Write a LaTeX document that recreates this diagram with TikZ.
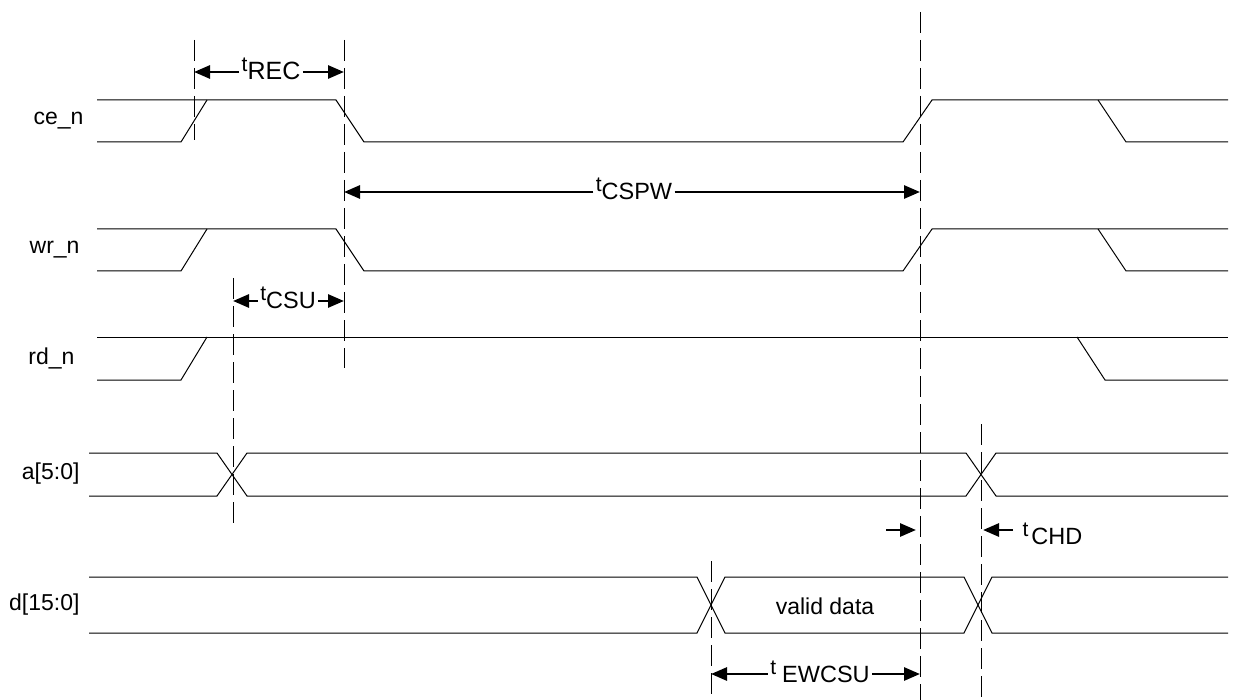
\documentclass[tikz,border=0pt]{standalone}
\usepackage{fontspec}
\setmainfont{Liberation Sans}
\usetikzlibrary{arrows.meta}

% timing symbol: small raised t, lowered index
\newcommand{\tsym}[1]{{\fontsize{21pt}{21pt}\selectfont t}\raisebox{-8pt}{#1}}

\begin{document}
\begin{tikzpicture}[x=1pt, y=-1pt, line width=1pt,
  signame/.style={anchor=east, inner sep=0pt, font=\fontsize{23pt}{23pt}\selectfont},
  sigline/.style={line width=1pt, line join=miter},
  guide/.style={line width=1pt, dash pattern=on 21pt off 7pt},
  dimarrow/.style={line width=2.8pt, -{Triangle[length=16pt,width=13pt]}},
  dimlabel/.style={anchor=base, inner sep=2pt, font=\fontsize{23.5pt}{23.5pt}\selectfont}]

  \useasboundingbox (0,0) rectangle (1233,700);

  % ───────── Signal names ─────────
  \node[signame] (nce) at (84,121) {ce\_n};
  \node[signame] (nwr) at (80,250) {wr\_n};
  \node[signame] (nrd) at (75,358) {rd\_n};
  \node[signame] (na)  at (80,474) {a[5:0]};
  \node[signame] (nd)  at (80,605) {d[15:0]};

  % ───────── ce_n and wr_n (same waveform) ─────────
  % high y = \hi, low y = \lo
  \foreach \hi/\lo in {100/142, 229/271} {
    \draw[sigline] (97,\hi) -- (336,\hi) -- (364,\lo) -- (903,\lo) -- (932,\hi) -- (1228,\hi);
    \draw[sigline] (97,\lo) -- (181,\lo) -- (207,\hi);
    \draw[sigline] (1098,\hi) -- (1126,\lo) -- (1228,\lo);
  }

  % ───────── rd_n ─────────
  \draw[sigline] (97,337) -- (1228,337);
  \draw[sigline] (97,380) -- (181,380) -- (207,337);
  \draw[sigline] (1077,337) -- (1105,380) -- (1228,380);

  % ───────── a[5:0] bus, crossings at x = 232, 981 ─────────
  \draw[sigline] (89,453) -- (217,453) -- (247,496) -- (966,496) -- (996,453) -- (1228,453);
  \draw[sigline] (89,496) -- (217,496) -- (247,453) -- (966,453) -- (996,496) -- (1228,496);

  % ───────── d[15:0] bus, crossings at x = 711, 978 ─────────
  \draw[sigline] (89,577) -- (697,577) -- (725,633) -- (964,633) -- (992,577) -- (1228,577);
  \draw[sigline] (89,633) -- (697,633) -- (725,577) -- (964,577) -- (992,633) -- (1228,633);
  \node[font=\fontsize{23pt}{23pt}\selectfont] (valid) at (825,606) {valid data};

  % ───────── Dashed reference lines ─────────
  \draw[guide] (194,40) -- (194,140);
  \draw[guide] (344,40) -- (344,368);
  \draw[guide] (233,278) -- (233,527);
  \draw[guide] (920,12) -- (920,700);
  \draw[guide] (981,424) -- (981,700);
  \draw[guide] (711,561) -- (711,700);

  % ───────── Timing parameters ─────────
  % t_REC
  \coordinate (recL) at (194,72);
  \coordinate (recR) at (344,72);
  \node[dimlabel, font=\fontsize{25pt}{25pt}\selectfont] (rec) at (271,72) {\tsym{REC}};
  \draw[dimarrow] (rec.west |- recL) -- (recL);
  \draw[dimarrow] (rec.east |- recR) -- (recR);

  % t_CSPW
  \coordinate (cspwL) at (344,192);
  \coordinate (cspwR) at (920,192);
  \node[dimlabel] (cspw) at (634,192) {\tsym{CSPW}};
  \draw[dimarrow] (cspw.west |- cspwL) -- (cspwL);
  \draw[dimarrow] (cspw.east |- cspwR) -- (cspwR);

  % t_CSU
  \coordinate (csuL) at (233,301);
  \coordinate (csuR) at (344,301);
  \node[dimlabel] (csu) at (288,301) {\tsym{CSU}};
  \draw[dimarrow] (csu.west |- csuL) -- (csuL);
  \draw[dimarrow] (csu.east |- csuR) -- (csuR);

  % t_CHD
  \coordinate (chdL) at (920,530);
  \coordinate (chdR) at (981,530);
  \draw[dimarrow] ([xshift=-34pt]chdL) -- ([xshift=-4pt]chdL);
  \draw[dimarrow] ([xshift=32pt]chdR) -- ([xshift=2pt]chdR);
  \node[dimlabel, anchor=base west] (chd) at (1020,536) {\tsym{\kern3pt CHD}};

  % t_EWCSU
  \coordinate (ewL) at (711,674);
  \coordinate (ewR) at (920,674);
  \node[dimlabel] (ew) at (820,674) {\tsym{\kern6pt EWCSU}};
  \draw[dimarrow] (ew.west |- ewL) -- (ewL);
  \draw[dimarrow] (ew.east |- ewR) -- (ewR);

\end{tikzpicture}
\end{document}
